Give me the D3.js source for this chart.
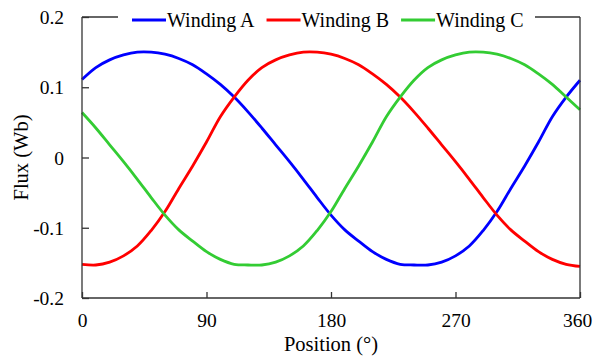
<!DOCTYPE html>
<html>
<head>
<meta charset="utf-8">
<script src="https://cdn.jsdelivr.net/npm/d3@7"></script>
<style>
  html, body { margin: 0; padding: 0; background: #fff; }
  svg { display: block; }
  text { font-family: "Liberation Serif", "Times New Roman", serif; fill: #000; }
</style>
</head>
<body>
<svg id="chart" width="593" height="358"></svg>
<script>
// Rotor position (degrees), sampled every 10°
const positions = [0,10,20,30,40,50,60,70,80,90,100,110,120,130,140,150,160,170,180,
                   190,200,210,220,230,240,250,260,270,280,290,300,310,320,330,340,350,360];

// Flux linkage of each winding (Wb)
const windingA = [0.111,0.128,0.139,0.146,0.150,0.150,0.147,0.141,0.132,0.119,0.104,0.086,0.065,
                  0.042,0.018,-0.006,-0.031,-0.057,-0.082,-0.103,-0.119,-0.134,-0.145,-0.152,-0.153,
                  -0.153,-0.149,-0.140,-0.126,-0.104,-0.077,-0.044,-0.012,0.022,0.058,0.086,0.110];
const windingB = [-0.152,-0.153,-0.149,-0.140,-0.126,-0.104,-0.077,-0.044,-0.012,0.022,0.058,0.086,0.110,
                  0.128,0.139,0.146,0.150,0.150,0.147,0.141,0.132,0.119,0.104,0.086,0.065,
                  0.042,0.018,-0.006,-0.031,-0.057,-0.082,-0.103,-0.119,-0.134,-0.145,-0.152,-0.155];
const windingC = [0.064,0.042,0.018,-0.006,-0.031,-0.057,-0.082,-0.103,-0.119,-0.134,-0.145,-0.152,-0.153,
                  -0.153,-0.149,-0.140,-0.126,-0.104,-0.077,-0.044,-0.012,0.022,0.058,0.086,0.110,
                  0.128,0.139,0.146,0.150,0.150,0.147,0.141,0.132,0.119,0.104,0.086,0.068];

const seriesNames = ["Winding A", "Winding B", "Winding C"];
const seriesColors = ["#0000ff", "#ff0000", "#33cc33"];
const seriesValues = [windingA, windingB, windingC];

const xTicks = [0, 90, 180, 270, 360];
const yTicks = [-0.2, -0.1, 0, 0.1, 0.2];
const yTickLabels = ["-0.2", "-0.1", "0", "0.1", "0.2"];

const margin = { left: 82, right: 13, top: 17, bottom: 60 };
const W = 593, H = 358;
const plotW = W - margin.left - margin.right;
const plotH = H - margin.top - margin.bottom;

const svg = d3.select("#chart");
const g = svg.append("g").attr("transform", `translate(${margin.left},${margin.top})`);

const x = d3.scaleLinear().domain([0, 360]).range([0, plotW]);
const y = d3.scaleLinear().domain([-0.2, 0.2]).range([plotH, 0]);

const axisColor = "#333";

// Curves
const line = d3.line()
  .x((d, i) => x(positions[i]))
  .y(d => y(d))
  .curve(d3.curveCatmullRom.alpha(0.5));

seriesValues.forEach((vals, k) => {
  g.append("path")
    .datum(vals)
    .attr("d", line)
    .attr("fill", "none")
    .attr("stroke", seriesColors[k])
    .attr("stroke-width", 2.8)
    .attr("stroke-linejoin", "round");
});

// Left axis with inward ticks
const yAxis = d3.axisLeft(y).tickValues(yTicks).tickSize(-7)
  .tickFormat((d, i) => yTickLabels[i]);
const ya = g.append("g").call(yAxis);
ya.select(".domain").remove();
ya.selectAll(".tick line").attr("stroke", axisColor).attr("stroke-width", 1.3);
ya.selectAll(".tick text")
  .attr("x", -18)
  .attr("dy", "0.34em")
  .style("font-size", "19.5px")
  .style("font-family", "'Liberation Serif', serif");

// Bottom axis with inward ticks
const xAxis = d3.axisBottom(x).tickValues(xTicks).tickSize(-6).tickFormat(d3.format("d"));
const xa = g.append("g").attr("transform", `translate(0,${plotH})`).call(xAxis);
xa.select(".domain").remove();
xa.selectAll(".tick line").attr("stroke", axisColor).attr("stroke-width", 1.3);
xa.selectAll(".tick text")
  .attr("y", 29)
  .attr("dy", 0)
  .style("font-size", "19.5px")
  .style("font-family", "'Liberation Serif', serif");
// keep the last label inside the right edge
xa.selectAll(".tick text").filter(d => d === 360).attr("x", -3);

// Frame: left, bottom, right full; top interrupted by legend
const frame = g.append("g").attr("stroke", axisColor).attr("stroke-width", 1.3).attr("fill", "none");
frame.append("line").attr("x1", 0).attr("x2", 0).attr("y1", 0).attr("y2", plotH);
frame.append("line").attr("x1", 0).attr("x2", plotW).attr("y1", plotH).attr("y2", plotH);
frame.append("line").attr("x1", plotW).attr("x2", plotW).attr("y1", 0).attr("y2", plotH);

// Legend along the top edge
const legendLeft = 118 - margin.left;
const legendRight = 535 - margin.left;
frame.append("line").attr("x1", 0).attr("x2", legendLeft).attr("y1", 0).attr("y2", 0);
frame.append("line").attr("x1", legendRight).attr("x2", plotW).attr("y1", 0).attr("y2", 0);

const legend = g.append("g").attr("transform", "translate(0,3)");
let lx = 132 - margin.left;
seriesNames.forEach((name, k) => {
  legend.append("line")
    .attr("x1", lx).attr("x2", lx + 34)
    .attr("y1", 0).attr("y2", 0)
    .attr("stroke", seriesColors[k]).attr("stroke-width", 2.8);
  const t = legend.append("text")
    .attr("x", lx + 35).attr("y", 6.5)
    .style("font-size", "20px")
    .text(name);
  lx += 35 + t.node().getComputedTextLength() + 12;
});

// Axis titles
svg.append("text")
  .attr("x", margin.left + plotW / 2)
  .attr("y", 351)
  .attr("text-anchor", "middle")
  .style("font-size", "20.5px")
  .text("Position (°)");

svg.append("text")
  .attr("transform", `translate(28,${margin.top + plotH / 2}) rotate(-90)`)
  .attr("text-anchor", "middle")
  .style("font-size", "20.5px")
  .text("Flux (Wb)");
</script>
</body>
</html>
